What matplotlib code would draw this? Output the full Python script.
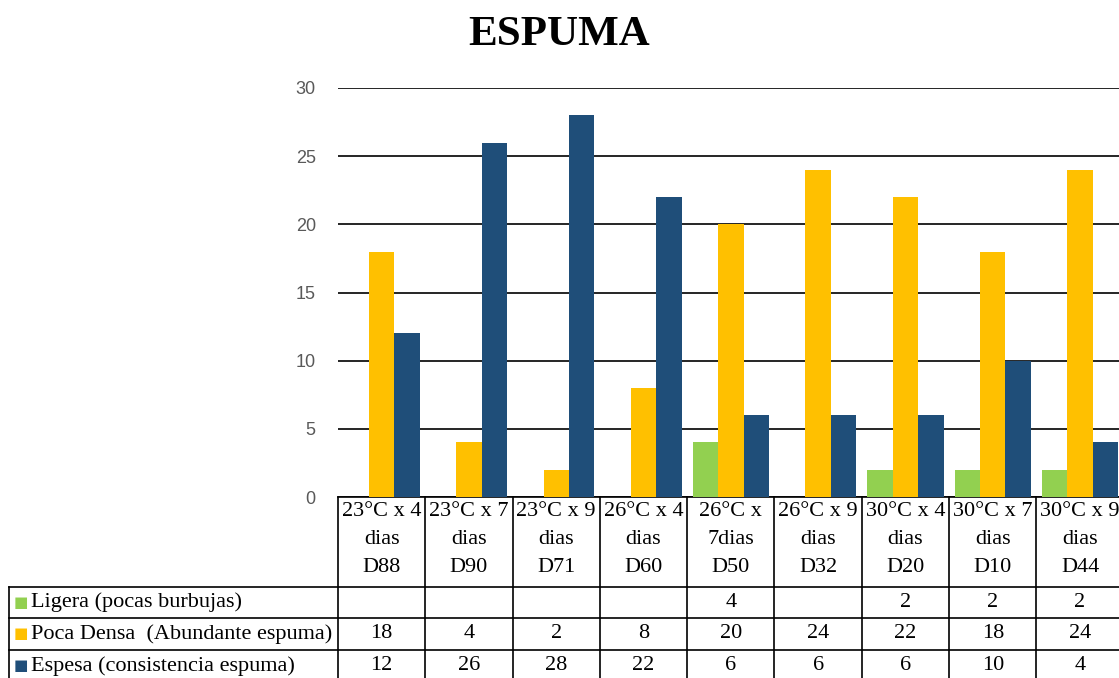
import matplotlib.pyplot as plt
import matplotlib.transforms as mtransforms
import numpy as np

# datos de la tabla
categorias = ['23°C x 4\ndias\nD88', '23°C x 7\ndias\nD90', '23°C x 9\ndias\nD71',
              '26°C x 4\ndias\nD60', '26°C x\n7dias\nD50', '26°C x 9\ndias\nD32',
              '30°C x 4\ndias\nD20', '30°C x 7\ndias\nD10', '30°C x 9\ndias\nD44']
series = ['Ligera (pocas burbujas)', 'Poca Densa  (Abundante espuma)', 'Espesa (consistencia espuma)']
ligera = [None, None, None, None, 4, None, 2, 2, 2]
poca_densa = [18, 4, 2, 8, 20, 24, 22, 18, 24]
espesa = [12, 26, 28, 22, 6, 6, 6, 10, 4]
colores = ['#92D050', '#FFC000', '#1F4E79']

W, H = 1119, 678
fig = plt.figure(figsize=(W / 100, H / 100), dpi=100)

# area del grafico en pixeles
x0, y0, y1, cat_w = 338, 497, 88, 87.3
ax = fig.add_axes([x0 / W, 1 - y0 / H, 9 * cat_w / W, (y0 - y1) / H])

datos = [ligera, poca_densa, espesa]
x = np.arange(len(categorias))
bw = 0.292
for k, (serie, col) in enumerate(zip(datos, colores)):
    vals = [np.nan if v is None else v for v in serie]
    ax.bar(x + (k - 1) * bw, vals, width=bw, color=col, zorder=3)

ax.set_xlim(-0.5, len(categorias) - 0.5)
ax.set_ylim(0, 30)
ax.set_yticks(range(0, 31, 5))
ax.set_xticks([])
ax.tick_params(axis='y', length=0, pad=16, labelsize=13, labelcolor='#595959')
for lab in ax.get_yticklabels():
    lab.set_fontfamily('Liberation Sans')
ax.yaxis.grid(True, color='black', linewidth=1.2, zorder=0)
for s in ax.spines.values():
    s.set_visible(False)

fig.text(0.5, 1 - 35 / H, 'ESPUMA', ha='center', va='center',
         fontsize=31, fontweight='bold', family='Liberation Serif')

# tabla de datos (x en datos, y en pixeles de la figura)
tr = mtransforms.blended_transform_factory(ax.transData, fig.transFigure)
def fy(p):
    return 1 - p / H

fs = 16
lw = 1.2
filas_y = [587, 618, 650, 682]
n = len(categorias)
left = -0.5
right = n - 0.5
# lineas horizontales
ax.plot([left, right], [fy(y0), fy(y0)], transform=tr, color='black', lw=lw, clip_on=False)
for yy in filas_y:
    fig.add_artist(plt.Line2D([9 / W, 1], [fy(yy), fy(yy)], color='black', lw=lw))
# lineas verticales
for i in range(n + 1):
    ax.plot([i - 0.5, i - 0.5], [fy(y0), fy(filas_y[-1])], transform=tr,
            color='black', lw=lw, clip_on=False)
fig.add_artist(plt.Line2D([9 / W, 9 / W], [fy(filas_y[0]), fy(filas_y[-1])], color='black', lw=lw))

# encabezados
for i, cat in enumerate(categorias):
    for j, linea in enumerate(cat.split('\n')):
        ax.text(i, fy(512 + j * 27.5), linea, transform=tr, ha='center', va='center',
                fontsize=fs, family='Liberation Serif', clip_on=False)

# filas
for r, (nombre, serie, col) in enumerate(zip(series, datos, colores)):
    yc = fy((filas_y[r] + filas_y[r + 1]) / 2)
    fig.text(14 / W, yc, '■', color=col, ha='left', va='center', fontsize=11, family='DejaVu Sans')
    fig.text(31 / W, yc, nombre, ha='left', va='center', fontsize=fs, family='Liberation Serif')
    for i, v in enumerate(serie):
        if v is not None:
            ax.text(i, yc, str(v), transform=tr, ha='center', va='center',
                    fontsize=fs, family='Liberation Serif', clip_on=False)

fig.savefig('out.png', dpi=100)
